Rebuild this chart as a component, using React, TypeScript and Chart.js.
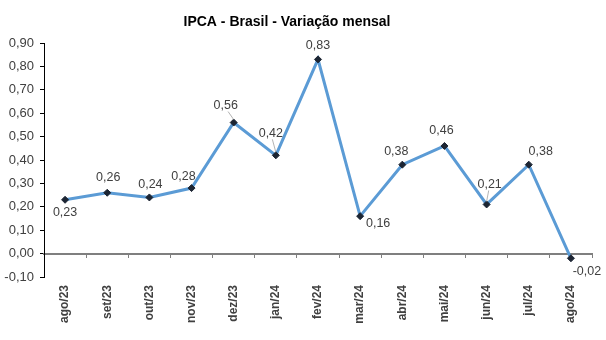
import React, { useEffect, useRef } from "react";
import { Chart, registerables } from "chart.js";

Chart.register(...registerables);

const TITLE = "IPCA - Brasil - Variação mensal";
const MONTHS = ["ago/23", "set/23", "out/23", "nov/23", "dez/23", "jan/24", "fev/24", "mar/24", "abr/24", "mai/24", "jun/24", "jul/24", "ago/24"];
const IPCA = [0.23, 0.26, 0.24, 0.28, 0.56, 0.42, 0.83, 0.16, 0.38, 0.46, 0.21, 0.38, -0.02];
// label offsets (px) relative to each point
const LABEL_DX = [0, 1, 1, -8, -8, -5, 0, 18, -6, -3, 3, 12, 16];
const LABEL_DY = [13, -15, -13, -12, -17, -22, -14, 7, -13, -15, -20, -13, 13];
const LEADERS = [false, false, false, false, true, true, false, false, false, false, true, false, false];

const fmt = (v: number) => v.toFixed(2).replace(".", ",");
const FONT = "Arial, 'Liberation Sans', sans-serif";

export default function App() {
  const ref = useRef<HTMLCanvasElement>(null);
  useEffect(() => {
    const canvas = ref.current!;
    const labelPlugin = {
      id: "dataLabels",
      afterDatasetsDraw(chart: any) {
        const ctx = chart.ctx;
        const meta = chart.getDatasetMeta(0);
        ctx.save();
        meta.data.forEach((pt: any, i: number) => {
          const lx = pt.x + LABEL_DX[i];
          const ly = pt.y + LABEL_DY[i];
          if (LEADERS[i]) {
            ctx.strokeStyle = "#a0a0a0";
            ctx.lineWidth = 0.8;
            ctx.beginPath();
            const sy = LABEL_DY[i] < 0 ? ly + 6 : ly - 6;
            ctx.moveTo(lx + (pt.x - lx) * 0.3, sy);
            ctx.lineTo(pt.x, pt.y - 3);
            ctx.stroke();
          }
          ctx.fillStyle = "#404040";
          ctx.font = "12.5px " + FONT;
          ctx.textAlign = "center";
          ctx.textBaseline = "middle";
          ctx.fillText(fmt(IPCA[i]), lx, ly);
        });
        ctx.restore();
      },
      afterDraw(chart: any) {
        const ctx = chart.ctx;
        ctx.save();
        ctx.fillStyle = "#000";
        ctx.font = "bold 14px " + FONT;
        ctx.textAlign = "center";
        ctx.textBaseline = "alphabetic";
        ctx.fillText(TITLE, 287, 26);
        ctx.restore();
      },
    };
    const chart = new Chart(canvas, {
      type: "line",
      data: {
        labels: MONTHS,
        datasets: [
          {
            data: IPCA,
            borderColor: "#5B9BD5",
            borderWidth: 3,
            tension: 0,
            pointStyle: "rectRot",
            pointRadius: 3.5,
            pointBackgroundColor: "#1c2533",
            pointBorderColor: "#1c2533",
            pointBorderWidth: 1,
            clip: false,
          } as any,
        ],
      },
      plugins: [labelPlugin],
      options: {
        animation: false,
        responsive: false,
        layout: { padding: { top: 43, right: 14, left: 0, bottom: 0 } },
        plugins: { legend: { display: false }, title: { display: false }, tooltip: { enabled: false } },
        scales: {
          x: {
            type: "category",
            position: "bottom",
            offset: true,
            grid: { display: false, drawTicks: false },
            border: { display: false },
            ticks: {
              minRotation: 90,
              maxRotation: 90,
              padding: 8,
              color: "#404040",
              font: { family: FONT, size: 12, weight: "bold" },
              autoSkip: false,
            },
            afterFit: (s: any) => {
              s.height = 63;
            },
          },
          x2: {
            type: "category",
            position: { y: 0 } as any,
            offset: true,
            grid: { offset: true, drawOnChartArea: false, drawTicks: true, tickLength: 3, color: "#7f7f7f", lineWidth: 1 },
            border: { display: true, color: "#7f7f7f", width: 2 },
            ticks: { display: false },
          },
          y: {
            min: -0.1,
            max: 0.9,
            grid: { drawOnChartArea: false, drawTicks: true, tickLength: 4, color: "#000" },
            border: { display: true, color: "#000", width: 1 },
            ticks: {
              stepSize: 0.1,
              padding: 6,
              color: "#404040",
              font: { family: FONT, size: 13 },
              callback: (v: any) => fmt(Number(v)),
            },
            afterFit: (s: any) => {
              s.width = 44;
            },
          },
        },
      } as any,
    });
    return () => chart.destroy();
  }, []);
  return (
    <div style={{ position: "fixed", left: 0, top: 0, width: 606, height: 340, background: "#fff" }}>
      <canvas ref={ref} width={606} height={340} />
    </div>
  );
}
